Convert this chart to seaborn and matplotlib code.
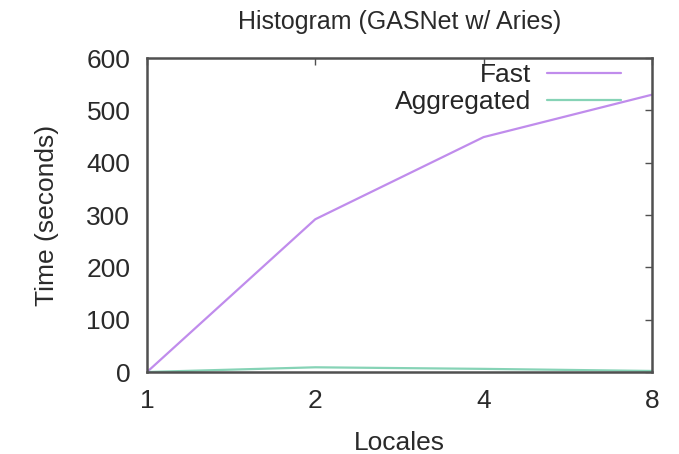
import numpy as np
import pandas as pd
import matplotlib
matplotlib.use('Agg')
import matplotlib.pyplot as plt
import seaborn as sns

# data
locales = [1, 2, 4, 8]
fast = [0, 292, 449, 530]
aggregated = [0, 9, 6, 2]

df = pd.DataFrame({
    'Locales': locales * 2,
    'Time': fast + aggregated,
    'Kind': ['Fast'] * 4 + ['Aggregated'] * 4,
})

sns.set_style('white')
plt.rcParams['font.family'] = ['Liberation Sans', 'DejaVu Sans']

fig = plt.figure(figsize=(6.79, 4.54), dpi=100)
ax = fig.add_axes([0.2165, 0.1806, 0.7435, 0.6914])

sns.lineplot(data=df, x='Locales', y='Time', hue='Kind',
             palette={'Fast': '#c08cec', 'Aggregated': '#86d3b6'},
             linewidth=1.6, ax=ax)

ax.set_xscale('log', base=2)
ax.set_xlim(1, 8)
ax.set_ylim(0, 600)
ax.set_xticks(locales)
ax.set_xticklabels([str(v) for v in locales])
ax.minorticks_off()
ax.set_yticks(range(0, 601, 100))

for s in ax.spines.values():
    s.set_color('#505050')
    s.set_linewidth(1.8)
ax.tick_params(direction='in', length=5, width=1, colors='#505050',
               top=True, right=True, labelsize=19, labelcolor='#2a2a2a', pad=12)

ax.set_xlabel('Locales', fontsize=19, color='#2a2a2a', labelpad=13)
ax.set_ylabel('Time (seconds)', fontsize=19, color='#2a2a2a', labelpad=20)
ax.set_title('Histogram (GASNet w/ Aries)', fontsize=18, color='#2a2a2a', pad=21)

ax.legend(loc='upper right', bbox_to_anchor=(0.95, 1.0), frameon=False,
          markerfirst=False, fontsize=19, handlelength=2.8, handletextpad=0.6,
          borderaxespad=0.0, labelspacing=0.1, borderpad=0.2)

fig.savefig('out.png', dpi=100)
